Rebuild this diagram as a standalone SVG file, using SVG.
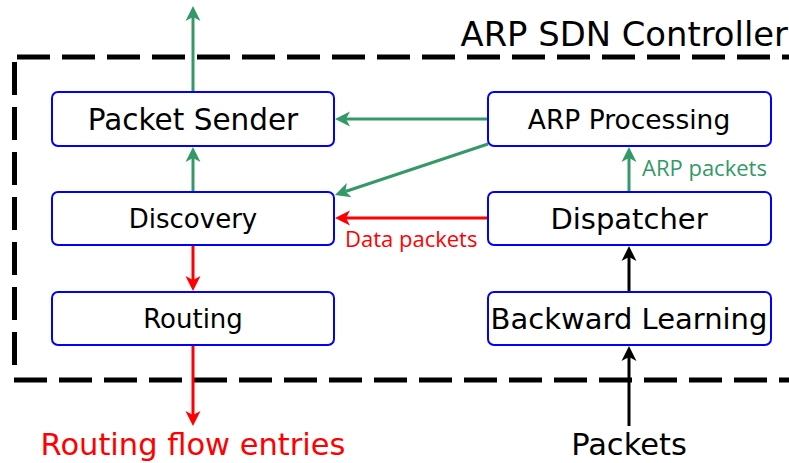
<svg xmlns="http://www.w3.org/2000/svg" width="789" height="463" viewBox="0 0 789 463">
  <style>
    .box { fill: #ffffff; stroke: #0000ff; stroke-width: 2; }
    .lbl { font-family: "DejaVu Sans", sans-serif; fill: #000000; text-anchor: middle; }
    .red { fill: #ff0000; }
    .edge { fill: none; stroke-width: 3; }
    .g { stroke: #339966; }
    .r { stroke: #ff0000; }
    .k { stroke: #000000; }
    .border { fill: none; stroke: #000000; stroke-width: 5; stroke-dasharray: 33 12; }
    .note { font-family: "Open Sans", sans-serif; font-size: 22px; }
  </style>
  <defs>
    <marker id="ahG" markerUnits="userSpaceOnUse" viewBox="0 -8 16 16" markerWidth="16" markerHeight="16" refX="4" refY="0" orient="auto">
      <path d="M15,0 L0,-7.5 L4,0 L0,7.5 Z" fill="#339966"/>
    </marker>
    <marker id="ahR" markerUnits="userSpaceOnUse" viewBox="0 -8 16 16" markerWidth="16" markerHeight="16" refX="4" refY="0" orient="auto">
      <path d="M15,0 L0,-7.5 L4,0 L0,7.5 Z" fill="#ff0000"/>
    </marker>
    <marker id="ahK" markerUnits="userSpaceOnUse" viewBox="0 -8 16 16" markerWidth="16" markerHeight="16" refX="4" refY="0" orient="auto">
      <path d="M15,0 L0,-7.5 L4,0 L0,7.5 Z" fill="#000000"/>
    </marker>
  </defs>

  <!-- controller boundary -->
  <g id="controller">
    <line class="border" x1="17" y1="57" x2="800" y2="57"/>
    <line class="border" x1="14.5" y1="62" x2="14.5" y2="366"/>
    <line class="border" x1="14" y1="380" x2="800" y2="380"/>
    <text class="lbl" x="788" y="46" font-size="33.8" style="text-anchor:end">ARP SDN Controller</text>
  </g>

  <!-- connectors -->
  <g id="connectors">
    <line class="edge g" x1="193" y1="92" x2="193" y2="17" marker-end="url(#ahG)"/>
    <line class="edge g" x1="193" y1="192" x2="193" y2="158" marker-end="url(#ahG)"/>
    <line class="edge g" x1="488" y1="119" x2="346" y2="119" marker-end="url(#ahG)"/>
    <line class="edge g" x1="488" y1="144" x2="345.4" y2="191.5" marker-end="url(#ahG)"/>
    <line class="edge g" x1="629" y1="192" x2="629" y2="158" marker-end="url(#ahG)"/>
    <line class="edge r" x1="488" y1="218" x2="346" y2="218" marker-end="url(#ahR)"/>
    <line class="edge r" x1="193" y1="245" x2="193" y2="280" marker-end="url(#ahR)"/>
    <line class="edge r" x1="193" y1="345" x2="193" y2="415" marker-end="url(#ahR)"/>
    <line class="edge k" x1="629" y1="292" x2="629" y2="257" marker-end="url(#ahK)"/>
    <line class="edge k" x1="629" y1="426" x2="629" y2="357" marker-end="url(#ahK)"/>
    <text class="note" x="642" y="176" fill="#339966">ARP packets</text>
    <text class="note" x="345" y="247" fill="#ff0000">Data packets</text>
  </g>

  <!-- nodes -->
  <g id="packet-sender">
    <rect class="box" x="52" y="92" width="282" height="54" rx="6"/>
    <text class="lbl" x="193" y="129.5" font-size="29.5">Packet Sender</text>
  </g>
  <g id="discovery">
    <rect class="box" x="52" y="192" width="282" height="53" rx="6"/>
    <text class="lbl" x="193" y="228" font-size="26">Discovery</text>
  </g>
  <g id="routing">
    <rect class="box" x="52" y="292" width="282" height="53" rx="6"/>
    <text class="lbl" x="193" y="328" font-size="26">Routing</text>
  </g>
  <g id="arp-processing">
    <rect class="box" x="488" y="92" width="283" height="54" rx="6"/>
    <text class="lbl" x="629" y="128.5" font-size="26.5">ARP Processing</text>
  </g>
  <g id="dispatcher">
    <rect class="box" x="488" y="192" width="283" height="53" rx="6"/>
    <text class="lbl" x="629" y="229" font-size="29">Dispatcher</text>
  </g>
  <g id="backward-learning">
    <rect class="box" x="488" y="292" width="283" height="53" rx="6"/>
    <text class="lbl" x="629" y="329" font-size="29">Backward Learning</text>
  </g>

  <!-- external endpoints -->
  <g id="routing-flow-entries">
    <text class="lbl red" x="193" y="455" font-size="30.5">Routing flow entries</text>
  </g>
  <g id="packets">
    <text class="lbl" x="629" y="455" font-size="30.5">Packets</text>
  </g>
</svg>
